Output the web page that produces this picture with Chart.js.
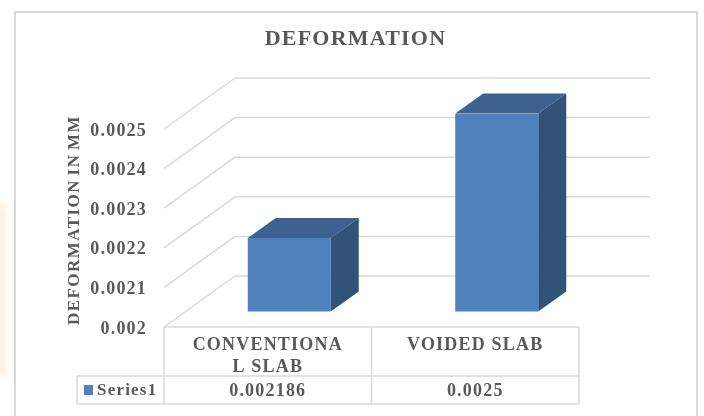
<!DOCTYPE html>
<html>
<head>
<meta charset="utf-8">
<title>Deformation</title>
<script src="https://cdn.jsdelivr.net/npm/chart.js@4"></script>
<style>
    html, body { margin: 0; padding: 0; background: #fff; overflow: hidden; }
    #stage { position: relative; width: 704px; height: 416px; overflow: hidden; }
    /* pale stain on the left edge of the scan */
    #stain { position: absolute; left: -8px; top: 205px; width: 15px; height: 170px; background: #fff0e4; filter: blur(3px); }
    #frame { position: absolute; left: 14px; top: 11px; width: 684px; height: 420px; border: 2px solid #d9d9d9; box-sizing: border-box; }
    canvas { position: absolute; left: 0; top: 0; filter: blur(0.35px); }
</style>
</head>
<body>
<div id="stage">
    <div id="stain"></div>
    <div id="frame"></div>
    <canvas id="deformationChart" width="704" height="416"></canvas>
</div>
<script>
const categories = [['CONVENTIONA', 'L SLAB'], ['VOIDED SLAB']];
const seriesName = 'Series1';
const seriesValues = [0.002186, 0.0025];
const chartTitle = 'DEFORMATION';
const yAxisTitle = 'DEFORMATION IN MM';

const GREY = '#595959';
const LINE = '#d9d9d9';
const FONT = '"Liberation Serif"';

// Depth of the fake 3D box: wall behind the plot, and each bar's own depth
const WALL_DX = 71, WALL_DY = -51;
const BAR_SHIFT_X = 21.5, BAR_SHIFT_Y = -15.4;
const BAR_DX = 28, BAR_DY = -20;

// Table rows under the plot
const TABLE_ROW = 376, TABLE_BOTTOM = 404, TABLE_LEFT = 77;

function line(ctx, x1, y1, x2, y2) {
    ctx.beginPath();
    ctx.moveTo(x1, y1);
    ctx.lineTo(x2, y2);
    ctx.stroke();
}

function face(ctx, color, points) {
    ctx.fillStyle = color;
    ctx.beginPath();
    points.forEach(([x, y], i) => (i ? ctx.lineTo(x, y) : ctx.moveTo(x, y)));
    ctx.closePath();
    ctx.fill();
}

const box3d = {
    id: 'box3d',
    beforeDraw(chart) {
        const { ctx, chartArea, scales } = chart;
        ctx.letterSpacing = '1.2px';

        // Back wall gridlines with their diagonals on the side wall
        ctx.save();
        ctx.strokeStyle = LINE;
        ctx.lineWidth = 1.5;
        scales.y.ticks.forEach((tick) => {
            const y = scales.y.getPixelForValue(tick.value);
            line(ctx, chartArea.left, y, chartArea.left + WALL_DX, y + WALL_DY);
            line(ctx, chartArea.left + WALL_DX, y + WALL_DY, chartArea.right + WALL_DX, y + WALL_DY);
        });
        ctx.restore();
    },
    beforeDatasetDraw(chart, args) {
        const { ctx, scales } = chart;
        const meta = chart.getDatasetMeta(args.index);
        const floor = scales.y.bottom; // bar.base sits at value 0, far below the axis minimum

        // Top and side faces, then the library draws the front face shifted into the box
        ctx.save();
        ctx.translate(BAR_SHIFT_X, BAR_SHIFT_Y);
        meta.data.forEach((bar) => {
            const l = bar.x - bar.width / 2;
            const r = bar.x + bar.width / 2;
            face(ctx, '#3d6291', [[l, bar.y], [l + BAR_DX, bar.y + BAR_DY], [r + BAR_DX, bar.y + BAR_DY], [r, bar.y]]);
            face(ctx, '#325379', [[r, bar.y], [r + BAR_DX, bar.y + BAR_DY], [r + BAR_DX, floor + BAR_DY], [r, floor]]);
        });
    },
    afterDatasetDraw(chart) {
        chart.ctx.restore();
    },
    afterDraw(chart) {
        const { ctx, chartArea, scales } = chart;
        const { left, right, bottom } = chartArea;
        const split = (scales.x.getPixelForValue(0) + scales.x.getPixelForValue(1)) / 2;

        ctx.save();
        ctx.strokeStyle = LINE;
        ctx.lineWidth = 1.5;
        line(ctx, left, bottom, right, bottom);
        line(ctx, TABLE_LEFT, TABLE_ROW, right, TABLE_ROW);
        line(ctx, TABLE_LEFT, TABLE_BOTTOM, right, TABLE_BOTTOM);
        line(ctx, TABLE_LEFT, TABLE_ROW, TABLE_LEFT, TABLE_BOTTOM);
        [left, split, right].forEach((x) => line(ctx, x, bottom, x, TABLE_BOTTOM));

        ctx.textBaseline = 'middle';
        ctx.textAlign = 'center';
        ctx.fillStyle = GREY;

        ctx.font = `bold 18px ${FONT}`;
        seriesValues.forEach((value, i) => {
            ctx.fillText(String(value), scales.x.getPixelForValue(i), 391);
        });

        ctx.fillStyle = '#4f81bd';
        ctx.fillRect(84, 385, 9, 10);
        ctx.fillStyle = GREY;
        ctx.textAlign = 'left';
        ctx.font = `bold 17px ${FONT}`;
        ctx.fillText(seriesName, 97, 391);

        ctx.textAlign = 'center';
        ctx.font = `bold 22px ${FONT}`;
        ctx.fillText(chartTitle, 355.5, 39);

        ctx.font = `bold 17px ${FONT}`;
        ctx.letterSpacing = '1.45px';
        ctx.wordSpacing = '-2px';
        ctx.translate(75, 220);
        ctx.rotate(-Math.PI / 2);
        ctx.fillText(yAxisTitle, 0, 0);
        ctx.restore();
    }
};

new Chart(document.getElementById('deformationChart').getContext('2d'), {
    type: 'bar',
    data: {
        labels: categories,
        datasets: [{
            label: seriesName,
            data: seriesValues,
            backgroundColor: '#4f81bd',
            barPercentage: 0.4,
            categoryPercentage: 1
        }]
    },
    options: {
        responsive: false,
        animation: false,
        layout: { padding: { top: 129, right: 125, left: 0, bottom: 0 } },
        plugins: {
            legend: { display: false },
            tooltip: { enabled: false }
        },
        scales: {
            x: {
                grid: { display: false, drawTicks: false },
                border: { display: false },
                afterFit(scale) { scale.height = 89; },
                ticks: {
                    color: GREY,
                    padding: 8,
                    autoSkip: false,
                    maxRotation: 0,
                    font: { family: FONT, size: 18, weight: 'bold', lineHeight: 1.2 }
                }
            },
            y: {
                min: 0.002,
                max: 0.0025,
                grid: { display: false, drawTicks: false },
                border: { display: false },
                afterFit(scale) { scale.width = 164; },
                ticks: {
                    stepSize: 0.0001,
                    color: GREY,
                    padding: 17,
                    labelOffset: 2,
                    font: { family: FONT, size: 18, weight: 'bold' },
                    callback: (value) => String(parseFloat(value.toFixed(4)))
                }
            }
        }
    },
    plugins: [box3d]
});
</script>
</body>
</html>
